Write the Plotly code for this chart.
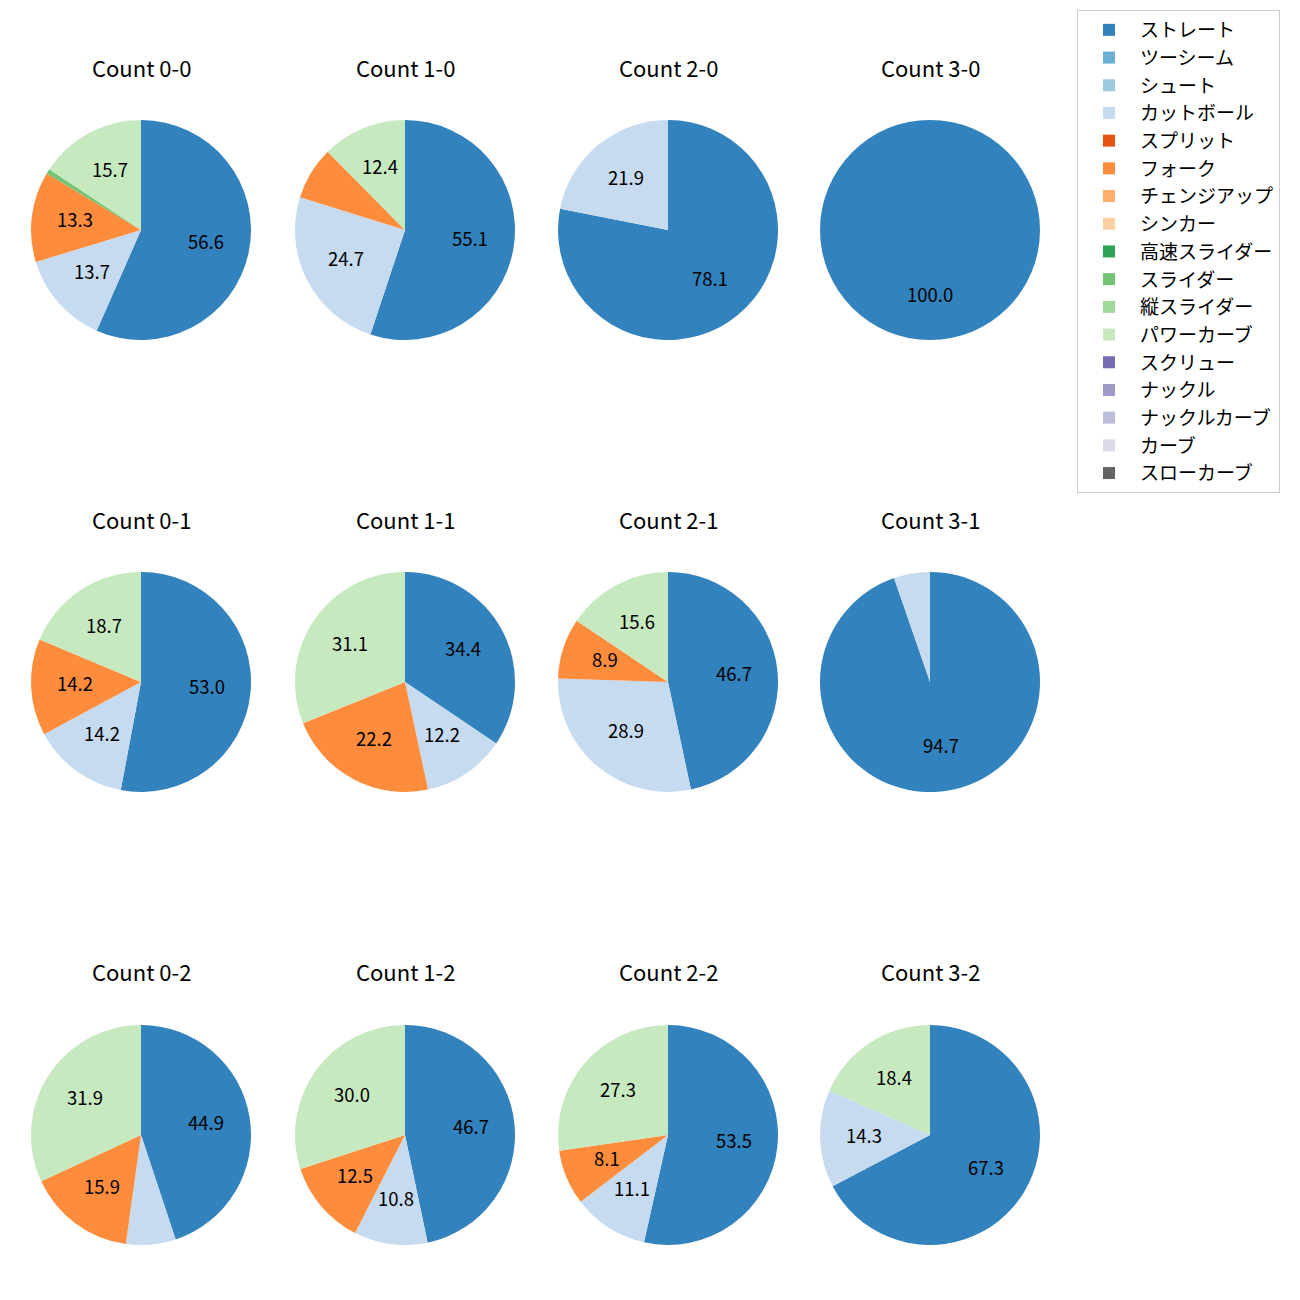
import math
import plotly.graph_objects as go

pitch_types = ["ストレート", "ツーシーム", "シュート", "カットボール", "スプリット", "フォーク",
               "チェンジアップ", "シンカー", "高速スライダー", "スライダー", "縦スライダー",
               "パワーカーブ", "スクリュー", "ナックル", "ナックルカーブ", "カーブ", "スローカーブ"]
colors = ["#3182bd", "#6baed6", "#9ecae1", "#c6dbef", "#e6550d", "#fd8d3c", "#fdae6b",
          "#fdd0a2", "#31a354", "#74c476", "#a1d99b", "#c7e9c0", "#756bb1", "#9e9ac8",
          "#bcbddc", "#dadaeb", "#636363"]

counts = ["0-0", "1-0", "2-0", "3-0",
          "0-1", "1-1", "2-1", "3-1",
          "0-2", "1-2", "2-2", "3-2"]

# shares (%) per count
straight   = [56.6, 55.1, 78.1, 100.0, 53.0, 34.4, 46.7, 94.7, 44.9, 46.7, 53.5, 67.3]
cutter     = [13.7, 24.7, 21.9, 0.0, 14.2, 12.2, 28.9, 5.3, 7.3, 10.8, 11.1, 14.3]
fork       = [13.3, 7.8, 0.0, 0.0, 14.2, 22.2, 8.9, 0.0, 15.9, 12.5, 8.1, 0.0]
slider     = [0.7, 0.0, 0.0, 0.0, 0.0, 0.0, 0.0, 0.0, 0.0, 0.0, 0.0, 0.0]
powercurve = [15.7, 12.4, 0.0, 0.0, 18.7, 31.1, 15.6, 0.0, 31.9, 30.0, 27.3, 18.4]

W = H = 1300
OFF = 8  # page body margin
col_cx = [141, 405, 668, 930]
row_cy = [230, 682, 1135]
R = 110
title_y = [67, 519, 971]
LABEL_DY = -2.5
FONT = "Noto Sans CJK JP"

fig = go.Figure()
for i, c in enumerate(counts):
    r, k = divmod(i, 4)
    vals = {"ストレート": straight[i], "カットボール": cutter[i], "フォーク": fork[i],
            "スライダー": slider[i], "パワーカーブ": powercurve[i]}
    values = [vals.get(p, 0.0) for p in pitch_types]
    cx, cy = col_cx[k] - OFF, row_cy[r] - OFF
    fig.add_trace(go.Pie(
        labels=pitch_types, values=values, textinfo="none",
        marker=dict(colors=colors, line=dict(width=0)),
        sort=False, direction="clockwise", rotation=0,
        domain=dict(x=[(cx - R) / W, (cx + R) / W], y=[(H - cy - R) / H, (H - cy + R) / H]),
        showlegend=(i == 0), hoverinfo="label+percent",
    ))
    # percentage labels at 0.6 radius (matplotlib autopct style)
    total = sum(values)
    cum = 0.0
    for v in values:
        if v <= 0:
            continue
        theta = 2 * math.pi * (cum + v / 2) / total
        cum += v
        if v < 8:
            continue
        lx = cx + 0.6 * R * math.sin(theta)
        ly = cy - 0.6 * R * math.cos(theta) + LABEL_DY
        fig.add_annotation(text=f"{v:.1f}", x=lx / W, y=(H - ly) / H,
                           xref="paper", yref="paper", showarrow=False,
                           xanchor="center", yanchor="middle",
                           font=dict(size=18.5, color="black", family=FONT))
    fig.add_annotation(text=f"Count {c}", x=cx / W, y=(H - (title_y[r] - OFF)) / H,
                       xref="paper", yref="paper", showarrow=False,
                       xanchor="center", yanchor="middle",
                       font=dict(size=22, color="black", family=FONT))

fig.update_layout(
    width=W, height=H, margin=dict(l=0, r=0, t=0, b=0),
    paper_bgcolor="white", plot_bgcolor="white",
    font=dict(family=FONT),
    legend=dict(x=(1077 - OFF) / W, y=1 - (10 - OFF) / H, xanchor="left", yanchor="top",
                bordercolor="#cccccc", borderwidth=1, bgcolor="white",
                itemwidth=52,
                font=dict(size=19, color="black", family=FONT), traceorder="normal"),
)
fig.write_html("out.html")
